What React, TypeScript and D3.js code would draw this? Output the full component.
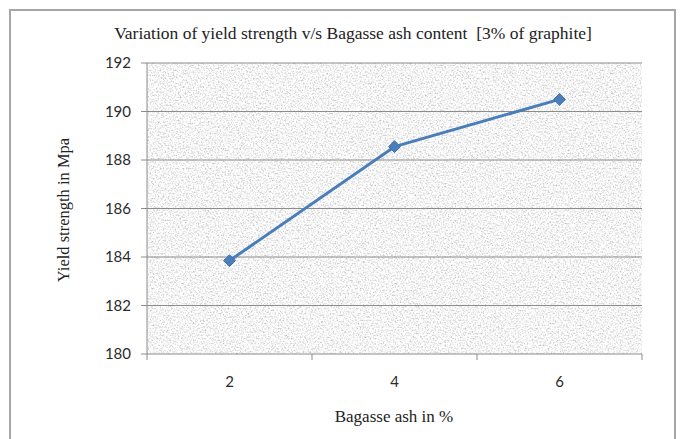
import React, { useEffect, useRef } from "react";
import * as d3 from "d3";

const categories = ["2", "4", "6"];
const yieldStrength = [183.85, 188.55, 190.5];
const yTicks = [180, 182, 184, 186, 188, 190, 192];

const chartTitle = "Variation of yield strength v/s Bagasse ash content  [3% of graphite]";
const xTitle = "Bagasse ash in %";
const yTitle = "Yield strength in Mpa";

const App = () => {
  const svgRef = useRef<SVGSVGElement>(null);

  useEffect(() => {
    const width = 682;
    const height = 439;
    const plot = { left: 147, right: 642, top: 63, bottom: 354 };

    const svg = d3.select(svgRef.current);
    svg.selectAll("*").remove();
    svg.attr("width", width).attr("height", height);

    // speckled background like the old Excel texture
    const defs = svg.append("defs");
    const filter = defs
      .append("filter")
      .attr("id", "speckle")
      .attr("x", 0)
      .attr("y", 0)
      .attr("width", 1)
      .attr("height", 1);
    filter
      .append("feTurbulence")
      .attr("type", "fractalNoise")
      .attr("baseFrequency", 0.6)
      .attr("numOctaves", 2)
      .attr("seed", 7)
      .attr("result", "noise");
    filter
      .append("feColorMatrix")
      .attr("in", "noise")
      .attr("type", "matrix")
      .attr(
        "values",
        "1.1 0 0 0 0.37  1.1 0 0 0 0.37  1.1 0 0 0 0.37  0 0 0 0 1"
      );

    svg.append("rect").attr("width", width).attr("height", height).attr("fill", "#ffffff");

    // outer chart border
    svg
      .append("rect")
      .attr("x", 10)
      .attr("y", 10)
      .attr("width", 665)
      .attr("height", 440)
      .attr("fill", "none")
      .attr("stroke", "#a6a6a6")
      .attr("stroke-width", 2);

    const x = d3
      .scaleBand()
      .domain(categories)
      .range([plot.left, plot.right]);

    const y = d3
      .scaleLinear()
      .domain([180, 192])
      .range([plot.bottom, plot.top]);

    svg
      .append("rect")
      .attr("x", plot.left)
      .attr("y", plot.top)
      .attr("width", plot.right - plot.left)
      .attr("height", plot.bottom - plot.top)
      .attr("fill", "#e8e8e8")
      .attr("filter", "url(#speckle)");

    // horizontal grid lines
    svg
      .append("g")
      .selectAll("line")
      .data(yTicks)
      .enter()
      .append("line")
      .attr("x1", plot.left - 6)
      .attr("x2", plot.right)
      .attr("y1", (d) => y(d))
      .attr("y2", (d) => y(d))
      .attr("stroke", "#8c8c8c")
      .attr("stroke-width", 1);

    // left axis line
    svg
      .append("line")
      .attr("x1", plot.left)
      .attr("x2", plot.left)
      .attr("y1", plot.top)
      .attr("y2", plot.bottom + 6)
      .attr("stroke", "#8c8c8c");

    // x tick marks between categories
    const bounds = categories.map((c) => (x(c) as number) + x.bandwidth());
    svg
      .append("g")
      .selectAll("line")
      .data(bounds)
      .enter()
      .append("line")
      .attr("x1", (d) => d)
      .attr("x2", (d) => d)
      .attr("y1", plot.bottom)
      .attr("y2", plot.bottom + 6)
      .attr("stroke", "#8c8c8c");

    // y tick labels
    svg
      .append("g")
      .selectAll("text")
      .data(yTicks)
      .enter()
      .append("text")
      .attr("x", 131)
      .attr("y", (d) => y(d))
      .attr("dy", "0.35em")
      .attr("text-anchor", "end")
      .attr("font-family", "Lato, 'Liberation Sans', sans-serif")
      .attr("font-size", 15)
      .attr("fill", "#2b2b2b")
      .text((d) => d);

    // x tick labels
    svg
      .append("g")
      .selectAll("text")
      .data(categories)
      .enter()
      .append("text")
      .attr("x", (d) => (x(d) as number) + x.bandwidth() / 2)
      .attr("y", 382)
      .attr("dy", "0.35em")
      .attr("text-anchor", "middle")
      .attr("font-family", "Lato, 'Liberation Sans', sans-serif")
      .attr("font-size", 15)
      .attr("fill", "#2b2b2b")
      .text((d) => d);

    const points = categories.map((c, i) => ({
      x: (x(c) as number) + x.bandwidth() / 2,
      y: y(yieldStrength[i]),
    }));

    const line = d3
      .line<{ x: number; y: number }>()
      .x((d) => d.x)
      .y((d) => d.y);

    svg
      .append("path")
      .datum(points)
      .attr("fill", "none")
      .attr("stroke", "#4a7ebb")
      .attr("stroke-width", 3)
      .attr("stroke-linejoin", "round")
      .attr("d", line);

    svg
      .append("g")
      .selectAll("path")
      .data(points)
      .enter()
      .append("path")
      .attr("d", d3.symbol().type(d3.symbolDiamond2).size(90))
      .attr("transform", (d) => `translate(${d.x},${d.y})`)
      .attr("fill", "#4a7ebb")
      .attr("stroke", "#3f6fa8")
      .attr("stroke-width", 1);

    // titles
    svg
      .append("text")
      .attr("x", 353)
      .attr("y", 33)
      .attr("dy", "0.35em")
      .attr("text-anchor", "middle")
      .attr("font-family", "'Liberation Serif', serif")
      .attr("font-size", 17.5)
      .attr("fill", "#222")
      .attr("xml:space", "preserve")
      .text(chartTitle);

    svg
      .append("text")
      .attr("x", 394)
      .attr("y", 416)
      .attr("dy", "0.35em")
      .attr("text-anchor", "middle")
      .attr("font-family", "'Liberation Serif', serif")
      .attr("font-size", 17)
      .attr("fill", "#222")
      .text(xTitle);

    svg
      .append("text")
      .attr("transform", "translate(63,210) rotate(-90)")
      .attr("dy", "0.35em")
      .attr("text-anchor", "middle")
      .attr("font-family", "'Liberation Serif', serif")
      .attr("font-size", 16.5)
      .attr("fill", "#222")
      .text(yTitle);
  }, []);

  return (
    <div style={{ position: "absolute", top: 0, left: 0 }}>
      <svg ref={svgRef} style={{ display: "block" }}></svg>
    </div>
  );
};

export default App;
